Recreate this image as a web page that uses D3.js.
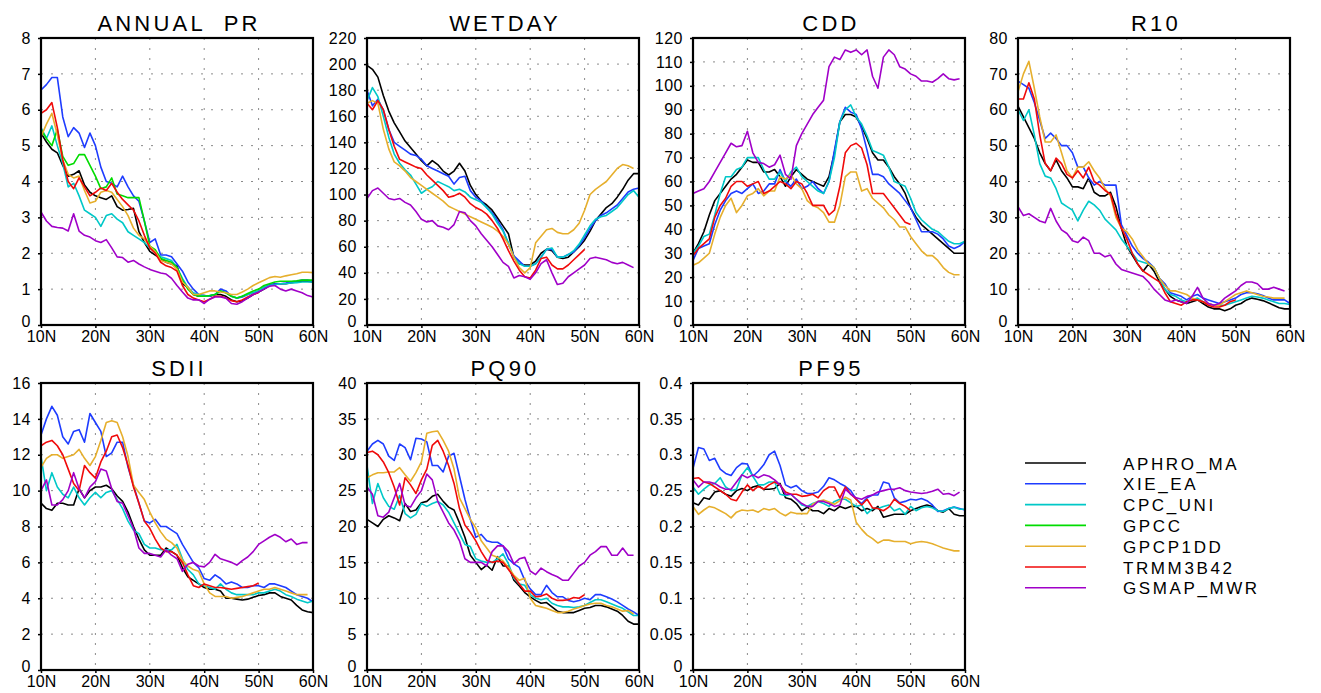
<!DOCTYPE html>
<html>
<head>
<meta charset="utf-8">
<script src="https://cdn.jsdelivr.net/npm/d3@7"></script>
<style>
  html, body { margin: 0; padding: 0; background: #fff; }
  svg { display: block; }
  text { font-family: "Liberation Sans", Arial, Helvetica, sans-serif; fill: #000; }
</style>
</head>
<body>
<svg id="chart" width="1321" height="693"></svg>
<script>
// Zonal means by latitude, one value per degree starting at 10N.
const seriesNames = ["APHRO_MA", "XIE_EA", "CPC_UNI", "GPCC", "GPCP1DD", "TRMM3B42", "GSMAP_MWR"];
const seriesColors = ["#000000", "#1e3cff", "#00c8c8", "#00dc00", "#e6af2d", "#f00a0a", "#a000c8"];
const latTicks = [10, 20, 30, 40, 50, 60];

// ANNUAL PR
const PR_APHRO = [5.35,5.1,4.9,4.8,4.45,4.15,4.2,4.3,3.9,3.7,
  3.6,3.55,3.5,3.6,3.3,3.2,3.22,3.25,2.6,2.3,
  2.05,1.95,1.85,1.75,1.7,1.65,1.15,1.05,0.85,0.8,
  0.82,0.8,0.85,0.85,0.8,0.7,0.65,0.68,0.75,0.85,
  0.92,1.0,1.1,1.15,1.15,1.15,1.18,1.2,1.22,1.22,1.2];
const PR_XIE = [6.55,6.7,6.9,6.9,5.8,5.25,5.5,5.35,4.95,5.35,
  5.0,4.4,4.0,3.95,3.85,4.15,3.85,3.6,3.45,2.9,
  2.3,2.4,1.95,1.95,1.9,1.7,1.5,1.2,1.0,0.85,
  0.82,0.8,0.85,1.0,0.95,0.8,0.75,0.78,0.85,0.9,
  0.95,1.05,1.12,1.15,1.15,1.17,1.2,1.22,1.25,1.25,1.22];
const PR_CPC = [5.5,5.2,5.55,5.0,4.5,3.85,3.95,3.6,3.2,3.1,
  3.0,2.75,3.05,3.1,2.95,2.85,2.6,2.5,2.4,2.3,
  2.15,2.05,1.9,1.85,1.8,1.6,1.3,1.05,0.9,0.85,
  0.8,0.82,0.85,0.95,0.9,0.8,0.75,0.8,0.85,0.9,
  0.95,1.05,1.1,1.12,1.15,1.15,1.17,1.18,1.2,1.2,1.2];
const PR_GPCC = [5.45,5.2,5.0,5.45,4.7,4.45,4.5,4.75,4.75,4.45,
  4.15,3.8,3.85,4.1,3.65,3.6,3.55,3.55,3.55,2.9,
  2.2,2.1,1.85,1.8,1.75,1.6,1.25,1.0,0.85,0.8,
  0.8,0.82,0.85,0.95,0.9,0.8,0.75,0.8,0.88,0.95,
  1.0,1.1,1.15,1.2,1.22,1.22,1.22,1.23,1.25,1.25,1.25];
const PR_GPCP = [5.25,5.6,5.9,5.3,4.6,4.2,4.1,4.15,3.75,3.4,
  3.45,3.7,3.75,3.7,3.5,3.3,3.05,2.7,2.5,2.4,
  2.2,2.05,1.8,1.75,1.7,1.55,1.2,1.05,0.85,0.85,
  0.9,0.95,0.95,0.92,0.9,0.85,0.85,0.92,1.0,1.1,
  1.18,1.25,1.32,1.35,1.33,1.37,1.4,1.43,1.47,1.47,1.46];
const PR_TRMM = [5.9,6.0,6.2,5.5,4.6,4.0,3.8,4.1,3.85,3.6,
  3.7,3.82,3.75,3.95,3.7,3.5,3.35,3.2,2.9,2.5,
  2.15,2.0,1.75,1.65,1.6,1.5,1.1,0.85,0.75,0.7,
  0.65,0.72,0.8,0.8,0.75,0.68,0.65,0.7,0.78,0.85,0.9];
const PR_GSMAP = [3.15,2.9,2.75,2.72,2.7,2.62,3.1,2.62,2.5,2.45,
  2.35,2.3,2.38,2.15,1.9,1.88,1.75,1.8,1.7,1.62,
  1.55,1.5,1.45,1.42,1.3,1.1,0.92,0.75,0.7,0.7,
  0.6,0.72,0.78,0.78,0.75,0.6,0.58,0.65,0.75,0.85,
  0.92,1.0,1.08,1.1,1.0,0.95,1.0,0.95,0.9,0.82,0.78];

// WETDAY
const WD_APHRO = [199,196,190,176,164,155,148,141,136,131,
  126,122,126,123,118,115,118,124,118,107,
  100,95,92,88,82,76,70,52,47,46,
  46,49,55,58,57,52,51,52,56,60,
  65,72,80,85,90,93,98,104,111,116,116];
const WD_XIE = [180,168,173,165,150,140,137,134,131,130,
  127,122,120,118,116,114,108,113,114,103,
  98,95,90,86,80,73,62,53,49,45,
  45,47,52,58,58,52,52,54,56,61,
  67,74,80,84,86,89,92,97,102,104,105];
const WD_CPC = [172,182,175,160,144,131,124,119,115,108,
  101,104,106,110,108,106,103,104,102,98,
  96,94,90,85,78,72,63,52,47,45,
  45,47,52,58,59,52,52,54,57,62,
  69,76,81,83,84,87,90,95,100,103,98];
const WD_GPCP = [170,172,170,150,135,125,122,118,113,110,
  107,104,101,98,95,91,89,87,85,83,
  81,79,77,75,72,68,62,52,44,40,
  44,63,68,73,74,71,70,70,73,78,
  88,100,104,107,110,115,120,123,122,120];
const WD_TRMM = [170,165,172,165,150,137,127,125,123,121,
  120,115,111,107,103,98,99,101,98,93,
  90,88,85,80,74,66,57,49,42,37,
  36,42,51,52,46,43,43,46,50,54,58];
const WD_GSMAP = [97,103,105,101,97,96,97,94,92,87,
  81,79,80,76,75,73,77,87,86,80,
  76,70,65,60,54,48,45,36,38,37,
  35,40,47,50,40,31,32,37,40,43,
  46,51,52,51,50,48,47,48,46,44];

// CDD
const CDD_APHRO = [30,34,39,46,52,55,58,61,63,66,
  69,68,68,64,64,65,62,58,62,65,
  63,61,60,59,58,62,72,85,88,88,
  87,83,78,72,69,69,66,62,59,55,
  49,45,42,40,38,36,34,32,30,30,30];
const CDD_XIE = [27,32,33,34,42,48,52,55,56,55,
  57,59,55,56,59,59,65,60,58,61,
  57,58,60,57,55,60,73,85,91,89,
  88,82,73,63,63,62,59,57,55,52,
  49,44,39,39,39,38,36,33,32,33,35];
const CDD_CPC = [30,33,37,38,46,55,62,62,65,66,
  70,70,70,65,61,61,64,60,64,66,
  62,60,58,56,55,60,70,85,90,92,
  87,84,79,73,72,71,66,60,59,58,
  53,47,44,42,40,39,37,35,34,34,35];
const CDD_GPCP = [25,26,28,30,38,45,50,53,47,50,
  54,55,57,54,56,56,62,61,63,59,
  57,52,50,49,47,43,43,50,62,64,
  64,56,57,53,51,49,46,44,41,41,
  37,34,31,29,29,27,24,22,21,21];
const CDD_TRMM = [29,32,34,36,45,50,53,58,60,60,
  58,59,60,55,56,58,60,59,57,60,
  59,55,50,50,50,46,48,58,72,75,
  76,74,67,55,55,55,52,49,46,43,42];
const CDD_GSMAP = [55,56,57,60,64,68,72,76,74.5,75,
  81,72,68,67.5,66,67,71,63,61,75,
  80,84,88,91,94,108,112,111,115,114,
  115,113,115,104,99,112,115,113,108,107,
  105,104,102,102,101.5,103,105,103,102.5,103];

// R10
const R10_APHRO = [61,58,55,52,48,45,43,46,43,41,
  38.5,38.5,38,41,37,36,36,37,33,27,
  22,19.5,17,15,17,15,12,10,8,7,
  6.5,6,6.5,7,6,5,4.5,4.5,4,4.5,
  5.5,6,7,7.5,7.2,6.8,6.2,5.5,4.8,4.5,4.5];
const R10_XIE = [68,67,66,62,57,52,53.5,52,50,50,
  48,44,44,41,39,40,39,39,39,28,
  25,22,20,18.5,17.5,16,13,11.5,9,8.5,
  8,7,8,8.5,7.5,7,6.5,6,6.5,7,
  7.5,8.5,9,9,8.7,8.2,7.5,7,7,7,6];
const R10_CPC = [60,57,60,53,45,41.5,41,38,34,33,
  32,29,32,34.5,33.5,32,29.5,28,26.5,24,
  22,20,18,17.5,17,16,13,10,8.5,8,
  7,6.5,7,7.5,6.5,6,5.5,5.5,5.5,6,
  6.5,7,7.5,8,7.8,7.5,7,6.5,6,6,5.7];
const R10_GPCP = [65,70,73.5,66,58,51,51,53,48,43,
  41,44,44,45.5,43,41,38,36,30,27,
  26,24,21,19,17,16,13,11,9.5,9.5,
  9,8.5,7.5,7,6.5,6,5.5,5.5,6.5,7.5,
  8.5,9,9.5,9,8.5,8,7.8,7.5,7.5,7.5];
const R10_TRMM = [63,63,67.5,63,53,45,43,46.5,45,42,
  41,43,41,44,40,39,37.5,36.5,31,27,
  24,20,17,15,14,13,12,9,6.5,6,
  5.5,6.5,7,7,6.5,5.5,5,5,5.5,6.5,7];
const R10_GSMAP = [33,30.5,31,30,29,28.5,32.5,29,26.5,25.5,
  23.5,23,24.5,23.5,20,20,19,19.5,17,15.5,
  15,14.5,14,13.5,12,10,8.5,7,6.5,7,
  6.5,6,8,10.5,7.5,6,5.5,6,7.5,8.5,
  9.5,11,12,12,11.5,10,10,10.5,10,9.5];

// SDII
const SD_APHRO = [9.3,9.0,8.9,9.3,9.3,9.2,9.2,10.1,9.6,10.0,
  10.2,10.2,10.3,10.1,9.7,9.4,8.8,8.0,7.3,6.7,
  6.4,6.4,6.4,6.8,6.6,6.4,5.7,5.2,5.0,4.8,
  4.6,4.5,4.5,4.4,4.0,4.0,3.95,3.9,3.95,4.05,
  4.15,4.2,4.3,4.3,4.1,4.0,3.9,3.6,3.35,3.25,3.2];
const SD_XIE = [13.1,14.0,14.7,14.2,13.0,12.6,13.3,13.4,12.7,14.3,
  13.8,13.3,11.9,12.1,12.7,12.7,11.3,10.3,9.3,8.3,
  8.2,8.4,8.0,8.0,7.8,7.6,7.0,6.5,6.0,5.7,
  5.1,5.0,5.3,5.1,4.8,4.9,4.8,4.6,4.6,4.7,
  4.7,4.6,4.8,4.8,4.7,4.6,4.4,4.2,4.1,4.0,3.8];
const SD_CPC = [11.9,10.0,11.0,10.2,9.8,9.6,10.2,9.6,9.2,9.6,
  9.9,9.6,9.9,10.0,9.5,9.0,8.3,7.8,7.6,7.0,
  6.8,6.8,6.7,6.7,6.7,7.0,6.2,5.6,5.3,4.8,
  4.7,4.6,4.5,4.8,4.5,4.3,4.2,4.2,4.2,4.2,
  4.3,4.3,4.4,4.5,4.4,4.2,4.1,3.95,3.85,3.75,3.85];
const SD_GPCP = [11.3,11.8,12.0,12.0,11.8,11.9,12.0,12.3,11.8,11.4,
  11.9,12.8,13.8,13.9,13.8,13.0,11.9,10.3,9.9,9.5,
  8.8,8.2,7.7,7.3,7.1,6.8,6.1,5.8,5.6,5.5,
  4.8,4.3,4.1,4.1,4.1,4.0,4.05,4.1,4.2,4.3,
  4.4,4.5,4.5,4.6,4.5,4.4,4.3,4.2,4.2,4.2];
const SD_TRMM = [12.5,12.7,12.8,12.5,12.0,11.2,10.4,10.0,11.4,11.0,
  10.7,11.6,12.2,13.0,13.1,12.4,11.4,10.2,9.3,8.3,
  7.9,7.3,6.8,6.6,6.6,6.4,6.0,5.3,4.7,4.6,
  4.8,4.7,4.6,4.6,4.55,4.5,4.55,4.6,4.65,4.7,4.85];
const SD_GSMAP = [10.0,10.6,9.2,9.2,9.5,10.0,11.0,10.1,9.6,10.2,
  10.5,11.2,11.1,10.1,9.4,9.3,8.6,7.9,6.8,6.5,
  6.5,6.4,6.3,6.7,6.4,6.2,5.5,5.9,6.0,5.8,
  5.75,6.0,6.45,6.2,6.1,6.0,5.85,6.1,6.3,6.6,
  7.0,7.2,7.4,7.55,7.4,7.15,7.3,7.0,7.1,7.1];

// PQ90
const PQ_APHRO = [21.0,20.5,20.0,21.0,21.5,21.2,20.8,23.2,22.1,22.3,
  23.3,23.5,24.2,24.5,23.5,22.7,22.3,20.5,18.5,16.0,
  15.0,14.0,14.6,13.9,15.8,14.5,14.5,12.5,11.7,10.8,
  10.2,9.7,9.3,9.4,8.8,8.2,8.0,8.0,8.0,8.3,
  8.6,8.7,9.0,9.0,8.8,8.5,8.2,7.6,6.8,6.4,6.4];
const PQ_XIE = [30.5,31.5,32.0,31.5,29.8,29.2,31.5,31.0,29.3,32.3,
  32.2,31.8,28.5,28.5,27.6,29.8,30.2,27.0,23.8,21.0,
  18.5,18.9,18.0,17.8,17.8,17.3,15.5,14.8,14.3,12.5,
  11.3,10.5,10.5,11.8,10.8,10.2,10.2,9.7,9.5,9.7,
  10.0,9.8,10.5,10.5,10.2,9.9,9.5,9.0,8.5,8.1,7.6];
const PQ_CPC = [28.5,23.2,26.0,24.0,22.8,22.4,24.3,21.8,21.2,21.7,
  23.2,22.8,23.2,23.5,23.0,22.0,20.5,19.0,17.5,17.2,
  15.5,15.2,15.0,15.0,15.5,16.2,14.8,12.8,12.0,11.8,
  10.5,10.0,9.8,10.0,9.3,9.0,8.8,8.8,8.7,8.8,
  9.0,9.4,9.8,9.8,9.5,9.2,8.9,8.6,8.1,7.6,7.6];
const PQ_GPCP = [26.8,27.2,27.5,27.5,27.6,27.6,28.2,27.2,26.3,27.5,
  29.0,33.0,33.2,33.3,32.0,30.5,28.0,24.0,22.5,21.0,
  19.8,18.0,17.0,16.0,15.7,15.2,14.3,13.2,12.5,12.8,
  10.0,9.0,8.8,8.6,8.3,8.0,8.0,8.2,8.5,8.7,
  9.0,9.2,9.3,9.3,9.0,8.8,8.5,8.2,8.3,7.8];
const PQ_TRMM = [30.3,30.5,30.0,29.0,27.5,25.5,23.0,26.8,25.8,24.6,
  26.5,28.0,31.3,32.0,30.5,28.5,26.0,22.5,20.2,19.2,
  18.0,16.5,15.3,15.0,15.2,15.0,14.0,13.0,12.0,11.0,
  11.0,10.2,10.3,10.6,10.0,9.7,9.7,9.8,10.1,10.0,10.5];
const PQ_GSMAP = [25.5,24.5,21.5,21.3,22.0,24.0,26.0,23.0,22.7,24.0,
  25.0,27.3,26.5,23.5,22.0,20.5,19.5,18.0,15.5,15.0,
  15.0,15.0,14.5,16.5,17.3,17.3,16.5,14.8,15.5,15.7,
  13.8,13.3,14.2,13.7,13.3,13.0,12.5,12.5,13.5,14.5,
  15.0,16.0,16.5,17.2,17.2,16.0,16.0,17.0,16.0,16.0];

// PF95
const PF_APHRO = [0.233,0.230,0.240,0.238,0.248,0.250,0.245,0.242,0.250,0.253,
  0.250,0.255,0.257,0.252,0.252,0.253,0.260,0.240,0.238,0.232,
  0.222,0.227,0.222,0.222,0.218,0.225,0.222,0.228,0.225,0.228,
  0.228,0.222,0.225,0.222,0.228,0.213,0.215,0.217,0.217,0.217,
  0.222,0.225,0.228,0.230,0.228,0.222,0.220,0.225,0.217,0.215,0.215];
const PF_XIE = [0.281,0.310,0.308,0.292,0.295,0.280,0.274,0.271,0.282,0.288,
  0.287,0.270,0.277,0.286,0.300,0.305,0.285,0.258,0.254,0.257,
  0.250,0.246,0.246,0.248,0.256,0.268,0.265,0.260,0.256,0.250,
  0.238,0.232,0.240,0.244,0.244,0.262,0.260,0.240,0.233,0.235,
  0.238,0.237,0.239,0.236,0.230,0.221,0.222,0.225,0.227,0.225,0.223];
const PF_CPC = [0.255,0.245,0.252,0.258,0.260,0.268,0.255,0.250,0.252,0.272,
  0.282,0.270,0.258,0.258,0.262,0.262,0.245,0.243,0.245,0.238,
  0.230,0.228,0.232,0.235,0.232,0.228,0.235,0.238,0.238,0.233,
  0.228,0.230,0.218,0.225,0.225,0.228,0.230,0.222,0.225,0.217,
  0.228,0.222,0.226,0.228,0.226,0.222,0.221,0.225,0.227,0.224,0.224];
const PF_GPCP = [0.228,0.217,0.223,0.228,0.226,0.222,0.218,0.212,0.220,0.223,
  0.222,0.223,0.220,0.225,0.223,0.225,0.219,0.215,0.220,0.218,
  0.218,0.218,0.231,0.235,0.237,0.234,0.231,0.236,0.241,0.237,
  0.206,0.196,0.188,0.183,0.177,0.181,0.181,0.179,0.179,0.179,
  0.176,0.178,0.179,0.178,0.176,0.173,0.170,0.168,0.166,0.166];
const PF_TRMM = [0.267,0.268,0.262,0.260,0.255,0.250,0.245,0.238,0.236,0.248,
  0.258,0.250,0.256,0.252,0.258,0.262,0.258,0.248,0.245,0.245,
  0.242,0.243,0.245,0.240,0.250,0.255,0.255,0.240,0.255,0.245,
  0.238,0.230,0.238,0.226,0.225,0.222,0.227,0.238,0.232,0.228,0.222];
const PF_GSMAP = [0.265,0.255,0.262,0.262,0.260,0.255,0.252,0.252,0.262,0.272,
  0.268,0.272,0.268,0.272,0.270,0.265,0.258,0.245,0.245,0.238,
  0.232,0.228,0.228,0.235,0.235,0.232,0.228,0.230,0.252,0.245,
  0.240,0.238,0.242,0.244,0.248,0.250,0.252,0.252,0.254,0.250,
  0.248,0.247,0.246,0.247,0.249,0.252,0.245,0.246,0.243,0.248];

// Panel layout (frame boxes in page pixels)
const PW = 272, PH = 287;
const panels = [
  { title: "ANNUAL  PR", left: 41,   top: 38,  ymax: 8,   ystep: 1,
    series: [PR_APHRO, PR_XIE, PR_CPC, PR_GPCC, PR_GPCP, PR_TRMM, PR_GSMAP] },
  { title: "WETDAY",     left: 367,  top: 38,  ymax: 220, ystep: 20,
    series: [WD_APHRO, WD_XIE, WD_CPC, null, WD_GPCP, WD_TRMM, WD_GSMAP] },
  { title: "CDD",        left: 693,  top: 38,  ymax: 120, ystep: 10,
    series: [CDD_APHRO, CDD_XIE, CDD_CPC, null, CDD_GPCP, CDD_TRMM, CDD_GSMAP] },
  { title: "R10",        left: 1018, top: 38,  ymax: 80,  ystep: 10,
    series: [R10_APHRO, R10_XIE, R10_CPC, null, R10_GPCP, R10_TRMM, R10_GSMAP] },
  { title: "SDII",       left: 41,   top: 383, ymax: 16,  ystep: 2,
    series: [SD_APHRO, SD_XIE, SD_CPC, null, SD_GPCP, SD_TRMM, SD_GSMAP] },
  { title: "PQ90",       left: 367,  top: 383, ymax: 40,  ystep: 5,
    series: [PQ_APHRO, PQ_XIE, PQ_CPC, null, PQ_GPCP, PQ_TRMM, PQ_GSMAP] },
  { title: "PF95",       left: 693,  top: 383, ymax: 0.4, ystep: 0.05,
    series: [PF_APHRO, PF_XIE, PF_CPC, null, PF_GPCP, PF_TRMM, PF_GSMAP] }
];

const svg = d3.select("#chart");
svg.append("rect").attr("width", 1321).attr("height", 693).attr("fill", "#fff");

function drawPanel(p) {
  const g = svg.append("g");
  const x = d3.scaleLinear().domain([10, 60]).range([p.left, p.left + PW]);
  const y = d3.scaleLinear().domain([0, p.ymax]).range([p.top + PH, p.top]);
  const nY = Math.round(p.ymax / p.ystep);
  const yTicks = d3.range(nY + 1).map(i => +(i * p.ystep).toFixed(4));

  // dotted grid
  g.append("g").selectAll("line").data(latTicks.slice(1, -1)).join("line")
    .attr("x1", d => x(d)).attr("x2", d => x(d))
    .attr("y1", p.top).attr("y2", p.top + PH)
    .attr("stroke", "#8a8a8a").attr("stroke-width", 1).attr("stroke-dasharray", "2,8");
  g.append("g").selectAll("line").data(yTicks.slice(1, -1)).join("line")
    .attr("x1", p.left).attr("x2", p.left + PW)
    .attr("y1", d => y(d)).attr("y2", d => y(d))
    .attr("stroke", "#8a8a8a").attr("stroke-width", 1).attr("stroke-dasharray", "2,8");

  // series lines
  const line = d3.line().x((d, i) => x(10 + i)).y(d => y(d));
  p.series.forEach((vals, k) => {
    if (!vals) return;
    g.append("path").datum(vals)
      .attr("d", line)
      .attr("fill", "none")
      .attr("stroke", seriesColors[k])
      .attr("stroke-width", 1.6)
      .attr("stroke-linejoin", "round");
  });

  // frame
  g.append("rect").attr("x", p.left).attr("y", p.top)
    .attr("width", PW).attr("height", PH)
    .attr("fill", "none").attr("stroke", "#000").attr("stroke-width", 2.2);

  // axes
  const fmt = v => String(+v.toFixed(2));
  const ay = g.append("g").attr("transform", `translate(${p.left},0)`)
    .call(d3.axisLeft(y).tickValues(yTicks).tickFormat(fmt).tickSize(3).tickPadding(7));
  const ax = g.append("g").attr("transform", `translate(0,${p.top + PH})`)
    .call(d3.axisBottom(x).tickValues(latTicks).tickFormat(d => d + "N").tickSize(3).tickPadding(2.5));
  [ay, ax].forEach(a => {
    a.select(".domain").remove();
    a.selectAll(".tick line").attr("stroke", "#000").attr("stroke-width", 1.5);
    a.selectAll("text").attr("font-size", 16).attr("font-family", null).attr("fill", "#000");
  });
  ay.selectAll("text").attr("letter-spacing", 0.5);
  // lift the zero label slightly so it clears the latitude labels below
  ay.selectAll(".tick").filter(d => d === 0).select("text").attr("dy", "0.1em");

  // title
  g.append("text")
    .attr("x", p.left + PW / 2 + 2).attr("y", p.top - 7)
    .attr("text-anchor", "middle")
    .attr("font-size", 22).attr("letter-spacing", 3.2)
    .style("white-space", "pre")
    .text(p.title);
}

panels.forEach(drawPanel);

// legend
const lg = svg.append("g");
seriesNames.forEach((name, k) => {
  const ly = 463 + k * 20.8;
  lg.append("line").attr("x1", 1025).attr("x2", 1086)
    .attr("y1", ly).attr("y2", ly)
    .attr("stroke", seriesColors[k]).attr("stroke-width", 1.6);
  lg.append("text").attr("x", 1123).attr("y", ly + 6.5)
    .attr("font-size", 17).attr("letter-spacing", 2.6)
    .text(name);
});
</script>
</body>
</html>
